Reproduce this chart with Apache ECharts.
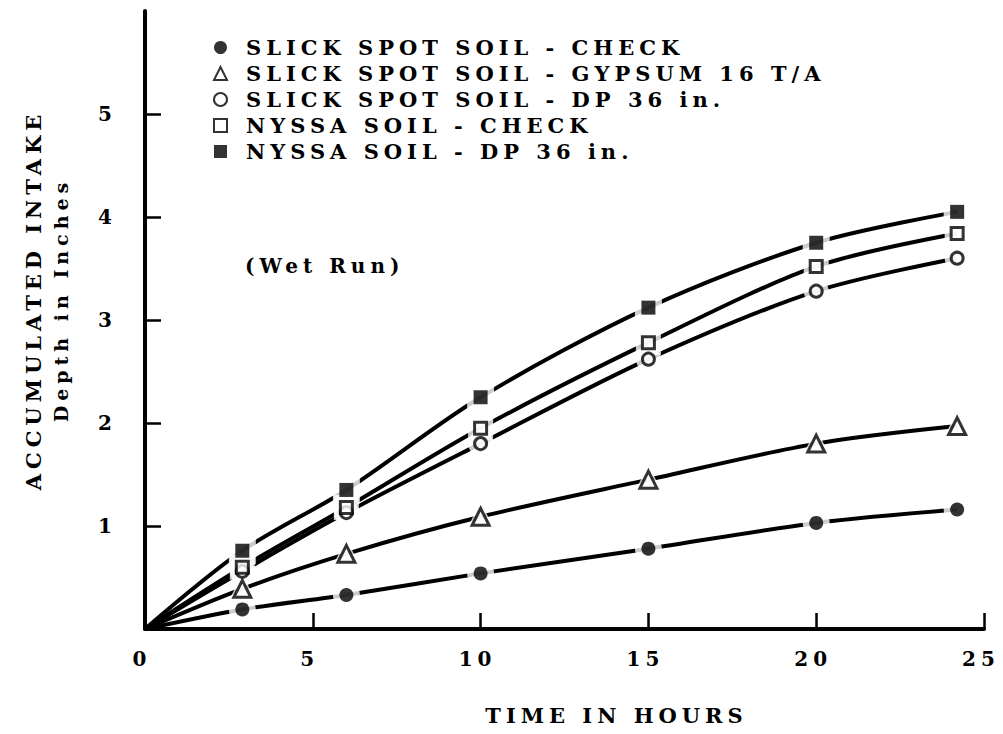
<!DOCTYPE html>
<html>
<head>
<meta charset="utf-8">
<script src="https://cdn.jsdelivr.net/npm/echarts@6/dist/echarts.min.js"></script>
<style>
  html, body { margin: 0; padding: 0; background: #fff; }
  #chart { width: 1003px; height: 734px; }
  /* typewriter-like wide lettering of the original */
  #chart text { letter-spacing: 5px; }
</style>
</head>
<body>
<div id="chart"></div>
<script>
/* ================================
   DATA
================================ */
const hours = [2.9, 6, 10, 15, 20, 24.2];

const slickCheck  = [0.19, 0.33, 0.54, 0.78, 1.03, 1.16];
const slickGypsum = [0.39, 0.73, 1.09, 1.45, 1.80, 1.97];
const slickDP     = [0.56, 1.13, 1.80, 2.62, 3.28, 3.60];
const nyssaCheck  = [0.60, 1.18, 1.95, 2.78, 3.52, 3.84];
const nyssaDP     = [0.76, 1.35, 2.25, 3.12, 3.75, 4.05];

const xTicks = [0, 5, 10, 15, 20, 25];
const yTicks = [1, 2, 3, 4, 5];

/* ================================
   SERIES DEFINITIONS
================================ */
const FONT = "DejaVu Serif";
const WEIGHT = "bold";
const filled = { color: "#000" };
const hollow = { color: "#fff", borderColor: "#000", borderWidth: 3 };

const defs = [
  { name: "SLICK SPOT SOIL - CHECK",         values: slickCheck,  symbol: "circle",   size: 14, style: filled },
  { name: "SLICK SPOT SOIL - GYPSUM 16 T/A", values: slickGypsum, symbol: "triangle", size: 17, style: hollow },
  { name: "SLICK SPOT SOIL - DP 36 in.",     values: slickDP,     symbol: "circle",   size: 12, style: hollow },
  { name: "NYSSA SOIL - CHECK",              values: nyssaCheck,  symbol: "rect",     size: 12, style: hollow },
  { name: "NYSSA SOIL - DP 36 in.",          values: nyssaDP,     symbol: "rect",     size: 14, style: filled }
];

const series = [];
defs.forEach(d => {
  const pts = hours.map((h, i) => [h, d.values[i]]);

  // curve from the origin
  series.push({
    type: "line",
    name: d.name + " curve",
    data: [[0, 0]].concat(pts),
    smooth: 0.3,
    symbol: "none",
    lineStyle: { color: "#000", width: 4 },
    silent: true,
    z: 2
  });

  // white halo that breaks the line around each marker
  series.push({
    type: "scatter",
    name: d.name + " halo",
    data: pts,
    symbol: d.symbol,
    symbolSize: d.size + 13,
    itemStyle: { color: "#fff" },
    silent: true,
    z: 3
  });

  series.push({
    type: "scatter",
    name: d.name,
    data: pts,
    symbol: d.symbol,
    symbolSize: d.size,
    itemStyle: d.style,
    z: 4
  });
});

/* ================================
   CHART
================================ */
const chart = echarts.init(document.getElementById("chart"), null, { renderer: "svg" });

chart.setOption({
  animation: false,
  backgroundColor: "#fff",
  textStyle: { fontFamily: FONT, fontWeight: WEIGHT, color: "#000" },
  title: {
    text: "(Wet Run)",
    left: 240,
    top: 251,
    textStyle: { fontFamily: FONT, fontSize: 20, fontWeight: WEIGHT, color: "#000" }
  },
  legend: {
    orient: "vertical",
    left: 208,
    top: 32,
    itemWidth: 13,
    itemHeight: 13,
    itemGap: 5,
    data: defs.map(d => d.name),
    textStyle: { fontFamily: FONT, fontWeight: WEIGHT, fontSize: 21, color: "#000", padding: [0, 0, 0, 14] }
  },
  grid: { left: 145, top: 11, right: 19, bottom: 105 },
  xAxis: {
    type: "value",
    min: 0,
    max: 25,
    interval: 5,
    name: "TIME IN HOURS",
    nameLocation: "middle",
    nameGap: 76,
    nameTextStyle: { fontFamily: FONT, fontWeight: WEIGHT, fontSize: 21, color: "#000", padding: [0, 0, 0, 104] },
    splitLine: { show: false },
    axisLine: { lineStyle: { color: "#000", width: 4 } },
    axisTick: { inside: true, length: 16, lineStyle: { color: "#000", width: 2.5 }, customValues: xTicks.slice(1) },
    axisLabel: { fontFamily: FONT, fontWeight: WEIGHT, fontSize: 20, color: "#000", margin: 20, padding: [0, 6, 0, 0], customValues: xTicks }
  },
  yAxis: {
    type: "value",
    min: 0,
    max: 6,
    interval: 1,
    name: "{a|ACCUMULATED INTAKE}\n{b|Depth in Inches}",
    nameLocation: "middle",
    nameGap: 71,
    nameTextStyle: {
      padding: [0, 0, 0, 40],
      rich: {
        a: { fontFamily: FONT, fontWeight: WEIGHT, fontSize: 21, color: "#000", lineHeight: 27 },
        b: { fontFamily: FONT, fontWeight: WEIGHT, fontSize: 19, color: "#000", lineHeight: 27 }
      }
    },
    splitLine: { show: false },
    axisLine: { lineStyle: { color: "#000", width: 4 } },
    axisTick: { inside: true, length: 16, lineStyle: { color: "#000", width: 2.5 }, customValues: yTicks },
    axisLabel: { fontFamily: FONT, fontWeight: WEIGHT, fontSize: 20, color: "#000", margin: 28, customValues: yTicks }
  },
  series: series
});
</script>
</body>
</html>
